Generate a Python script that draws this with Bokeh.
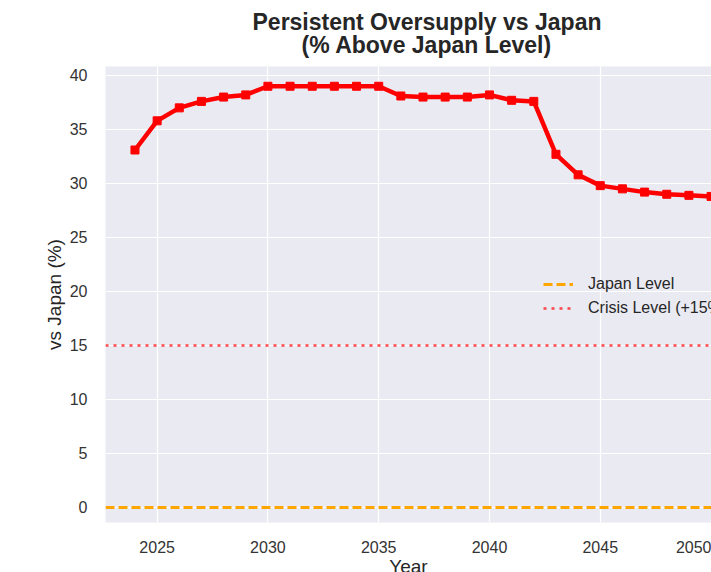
from bokeh.plotting import figure
from bokeh.models import (Span, Title, Legend, LegendItem, FixedTicker, Range1d,
                          ColumnDataSource)
from bokeh.embed import file_html
from bokeh.resources import INLINE

# ---- data ----
years = list(range(2024, 2051))
vs_japan = [33.1, 35.8, 37.0, 37.6, 38.0, 38.2, 39.0, 39.0, 39.0, 39.0, 39.0, 39.0,
            38.1, 38.0, 38.0, 38.0, 38.2, 37.7, 37.6, 32.7, 30.8, 29.8, 29.5,
            29.2, 29.0, 28.9, 28.8]
japan_level = 0
crisis_level = 15
x_ticks = [2025, 2030, 2035, 2040, 2045, 2050]
y_ticks = [0, 5, 10, 15, 20, 25, 30, 35, 40]
title_lines = ["Persistent Oversupply vs Japan", "(% Above Japan Level)"]

FONT = "Liberation Sans"
TXT = "#262626"

p = figure(frame_width=606, frame_height=456, output_backend="svg",
           toolbar_location=None, x_range=Range1d(2022.67, 2050.02),
           y_range=Range1d(-1.39, 40.83), min_border_left=105, min_border_right=0,
           min_border_top=66, min_border_bottom=10)
p.background_fill_color = "#EAEAF2"
p.border_fill_color = "white"
p.outline_line_color = None

# grid
p.xgrid.grid_line_color = "white"
p.ygrid.grid_line_color = "white"
p.xgrid.grid_line_width = 1.2
p.ygrid.grid_line_width = 1.2

# axes
for ax in (p.xaxis[0], p.yaxis[0]):
    ax.axis_line_color = None
    ax.major_tick_line_color = None
    ax.minor_tick_line_color = None
    ax.major_label_text_font = FONT
    ax.major_label_text_font_size = "16px"
    ax.major_label_text_color = "#333333"
    ax.axis_label_text_font = FONT
    ax.axis_label_text_font_size = "19px"
    ax.axis_label_text_font_style = "normal"
    ax.axis_label_text_color = TXT
p.xaxis.ticker = FixedTicker(ticks=x_ticks)
p.yaxis.ticker = FixedTicker(ticks=y_ticks)
p.xaxis.axis_label = "Year"
p.yaxis.axis_label = "vs Japan (%)"
p.xaxis.major_label_standoff = 12
p.xaxis.axis_label_standoff = 0
p.yaxis.major_label_standoff = 12
p.yaxis.axis_label_standoff = 2

# reference lines
p.add_layout(Span(location=japan_level, dimension="width", line_color="#FFA500",
                  line_width=3, line_dash="9 4"))
p.add_layout(Span(location=crisis_level, dimension="width", line_color="#FF0000",
                  line_alpha=0.7, line_width=2.5, line_dash="3 5"))

src = ColumnDataSource(dict(x=years, y=vs_japan))
p.line("x", "y", source=src, line_color="#FF0000", line_width=4.5)
p.scatter("x", "y", source=src, marker="square", size=8, fill_color="#FF0000",
          line_color="#FF0000")

# legend proxies (hidden renderers, shown only in the legend)
r_jp = p.line(x=years, y=[japan_level] * len(years), line_color="#FFA500",
              line_width=3, line_dash="9 4", visible=False)
r_cr = p.line(x=years, y=[crisis_level] * len(years), line_color="#FF0000",
              line_alpha=0.7, line_width=2.5, line_dash="3 5", visible=False)
legend = Legend(items=[LegendItem(label="Japan Level", renderers=[r_jp]),
                       LegendItem(label="Crisis Level (+15%)", renderers=[r_cr])],
                location=(428, 192), glyph_width=30, glyph_height=24,
                label_height=24, label_standoff=15, padding=10, spacing=0,
                label_text_font=FONT, label_text_font_size="16px",
                label_text_color=TXT, background_fill_alpha=0,
                border_line_alpha=0, inactive_fill_alpha=0, click_policy="none")
p.add_layout(legend)

# two-line title (line 2 nearest the frame), centred over the full axes area
p.add_layout(Title(text=title_lines[1], align="left", offset=196, standoff=17,
                   text_font=FONT, text_font_size="23px", text_font_style="bold",
                   text_color=TXT), "above")
p.add_layout(Title(text=title_lines[0], align="left", offset=147, standoff=-26,
                   text_font=FONT, text_font_size="23px", text_font_style="bold",
                   text_color=TXT), "above")

open("out.html", "w").write(file_html(p, INLINE))
